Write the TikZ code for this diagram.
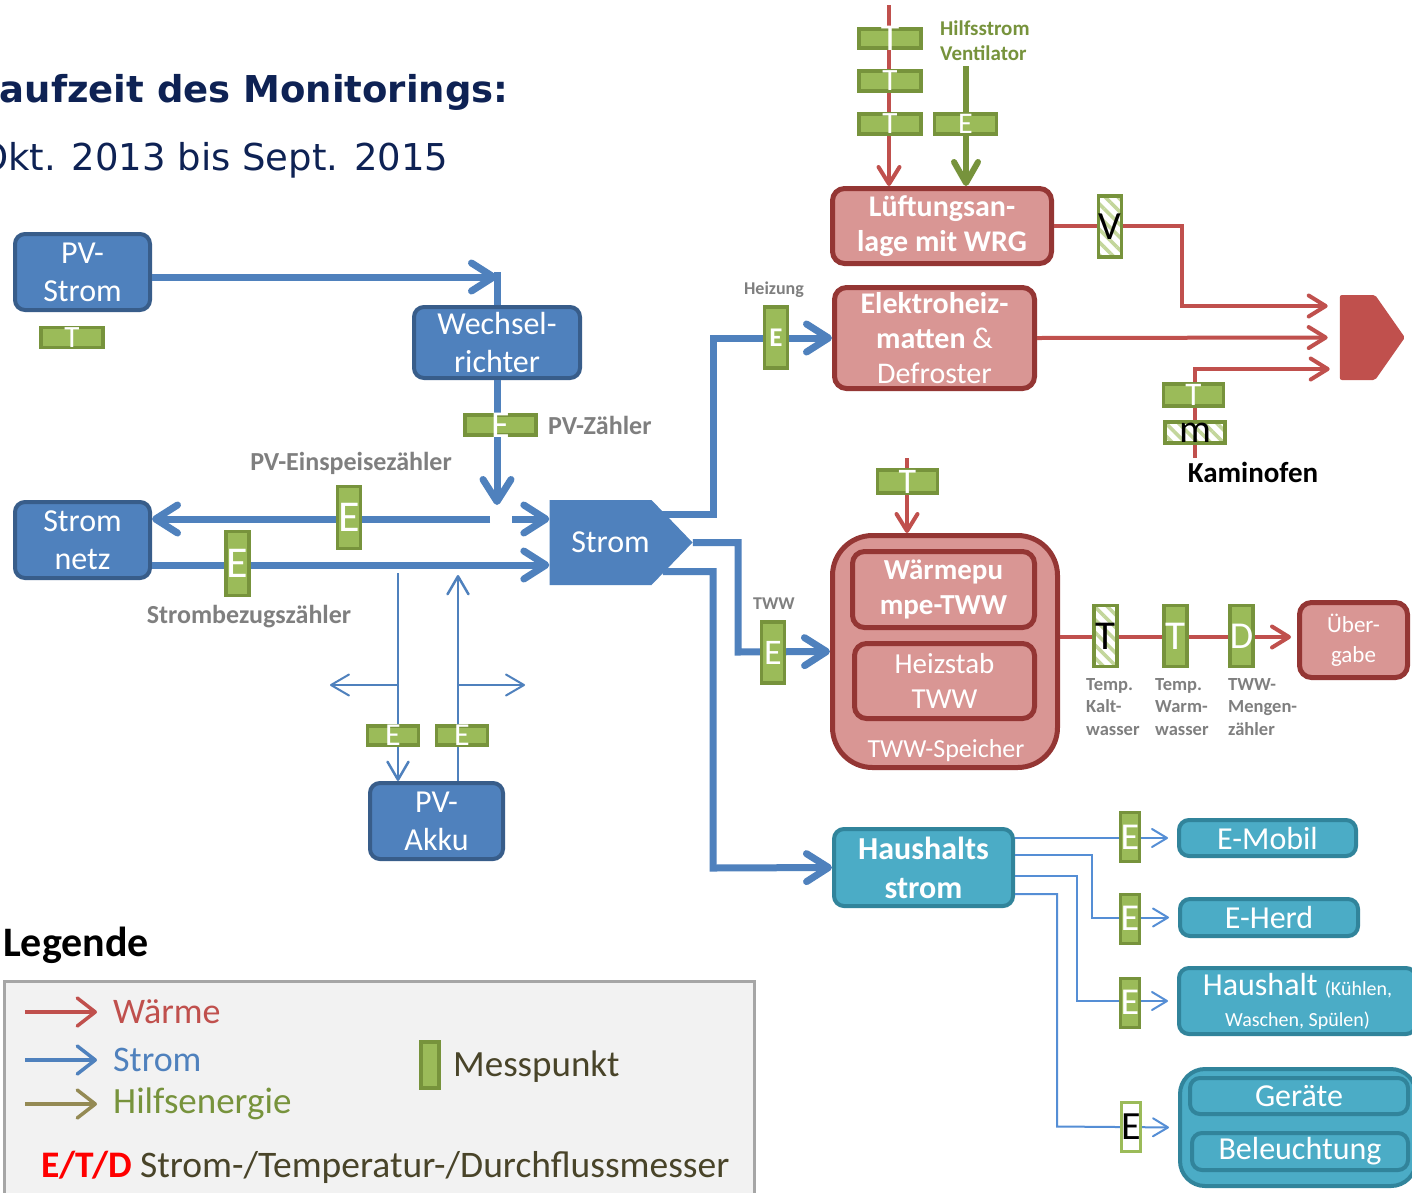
\documentclass[tikz,border=0pt]{standalone}
\usepackage{fontspec}
\setmainfont{Carlito}
\newfontfamily\titlefont{DejaVu Sans}
\usetikzlibrary{arrows.meta,shapes.symbols,patterns.meta}

\definecolor{bluefill}{HTML}{4F81BD}
\definecolor{blueborder}{HTML}{385D8A}
\definecolor{redfill}{HTML}{D99694}
\definecolor{redborder}{HTML}{943634}
\definecolor{redline}{HTML}{C0504D}
\definecolor{cyanfill}{HTML}{4BACC6}
\definecolor{cyanborder}{HTML}{31849B}
\definecolor{meterfill}{HTML}{9BBB59}
\definecolor{meterborder}{HTML}{77933C}
\definecolor{hatchgreen}{HTML}{C3D69B}
\definecolor{labelgray}{HTML}{7F7F7F}
\definecolor{hhline}{HTML}{558ED5}
\definecolor{titleblue}{HTML}{0E2254}
\definecolor{legfill}{HTML}{F2F2F2}
\definecolor{framegray}{HTML}{A6A6A6}
\definecolor{legdark}{HTML}{494429}
\definecolor{hilfarrow}{HTML}{948A54}

\newcommand{\fsz}[2]{\fontsize{#1}{#2}\selectfont}
\newcommand{\mlet}[1]{\smash{\raisebox{-.5\height}{#1}}}

\tikzset{
  boxbase/.style={align=center, text=white, inner sep=0pt, line width=4pt, rounded corners=10pt},
  bluebox/.style={boxbase, draw=blueborder, fill=bluefill, font=\fsz{32}{38}},
  redbox/.style={boxbase, draw=redborder, fill=redfill, line width=5pt, rounded corners=12pt},
  cyanbox/.style={boxbase, draw=cyanborder, fill=cyanfill, font=\fsz{32}{38}},
  stromshape/.style={signal, signal to=east, signal pointer angle=92, fill=bluefill, minimum width=143pt, minimum height=85pt, inner sep=0pt, text=white, font=\fsz{32}{38}},
  kamshape/.style={signal, signal to=east, signal pointer angle=110, fill=redline, rounded corners=2pt, minimum width=65pt, minimum height=85pt, inner sep=0pt},
  meter/.style={draw=meterborder, line width=3.5pt, inner sep=0pt, font=\fsz{38}{38}},
  gmeter/.style={meter, fill=meterfill, text=white},
  hatchmeter/.style={meter, preaction={fill=white}, pattern={Lines[angle=-45,distance=9pt,line width=3.5pt]}, pattern color=hatchgreen, text=black},
  hsize/.style={minimum width=62pt, minimum height=20pt},
  vsize/.style={minimum width=23pt, minimum height=61pt},
  ssize/.style={line width=3pt, minimum width=19pt, minimum height=49pt},
  lbl/.style={inner sep=0pt, text=labelgray, font=\fsz{26}{30}\bfseries},
  legtext/.style={anchor=west, inner sep=0pt, font=\fsz{36}{40}},
  legframe/.style={draw=framegray, fill=legfill, line width=3pt, inner sep=0pt},
  barrow/.style={draw=bluefill, line width=7pt, -{Straight Barb[length=22pt,width=28pt,round]}},
  rarrow/.style={draw=redline, line width=4pt, -{Straight Barb[length=17pt,width=21pt,round]}},
  garrow/.style={draw=meterborder, line width=6pt, -{Straight Barb[length=21pt,width=24pt,round]}},
  tarrow/.style={draw=bluefill, line width=2.5pt, -{Straight Barb[length=18pt,width=21pt,round]}},
  harrow/.style={draw=hhline, line width=2pt, shorten >=9pt, -{Straight Barb[length=15pt,width=18pt,round]}},
  legarrow/.style={line width=3.5pt, -{Straight Barb[length=18pt,width=28pt,round]}}
}

\begin{document}
\begin{tikzpicture}[x=1pt,y=-1pt]
\path[use as bounding box, fill=white] (0,0) rectangle (1412,1192);

\node[anchor=base west, inner sep=0pt, text=titleblue, font={\titlefont\bfseries\fsz{37}{40}}] (tit) at (-24,102) {Laufzeit des Monitorings:};
\node[anchor=base west, inner sep=0pt, text=titleblue, font={\titlefont\fsz{37}{40}}] (dat) at (-21,170) {Okt. 2013 bis Sept. 2015};

\node[bluebox, minimum width=135pt, minimum height=76pt] (pvs) at (82.5,272) {PV-\\Strom};
\node[bluebox, minimum width=166pt, minimum height=71pt] (wr) at (497,342.5) {Wechsel-\\richter};
\node[bluebox, minimum width=135pt, minimum height=76pt] (netz) at (82.5,540) {Strom\\netz};
\node[bluebox, minimum width=133pt, minimum height=76pt] (akku) at (436.5,821) {PV-\\Akku};
\node[stromshape] (strom) at (600.5,542.5) {\hspace*{20pt}Strom};

\node[redbox, font=\fsz{30}{35}\bfseries, minimum width=219pt, minimum height=75pt] (lueft) at (942,226) {Lüftungsan-\\lage mit WRG};
\node[redbox, font=\fsz{30}{35}, minimum width=200pt, minimum height=101pt] (elh) at (934.5,338) {\textbf{Elektroheiz-}\\\textbf{matten} \&\\Defroster};
\node[redbox, rounded corners=40pt, minimum width=225pt, minimum height=232pt] (tww) at (945,651.5) {};
\node[redbox, font=\fsz{29}{35}\bfseries, minimum width=182pt, minimum height=76pt] (wp) at (943.5,589.5) {Wärmepu\\mpe-TWW};
\node[redbox, font=\fsz{29}{35}, minimum width=180pt, minimum height=75pt] (hs) at (944.5,681) {Heizstab\\TWW};
\node[inner sep=0pt, text=white, font=\fsz{26}{30}] (twwsp) at (946,751) {TWW-Speicher};
\node[redbox, font=\fsz{23}{30}, minimum width=108pt, minimum height=75pt] (ueb) at (1353.5,640) {Über-\\gabe};
\node[kamshape] (kam) at (1357.5,337.5) {};

\node[cyanbox, font=\fsz{32}{39}\bfseries, minimum width=179pt, minimum height=77pt] (hh) at (923.5,867.5) {Haushalts\\strom};
\node[cyanbox, minimum width=177pt, minimum height=36pt] (mob) at (1267.5,838) {E-Mobil};
\node[cyanbox, minimum width=178pt, minimum height=37pt] (herd) at (1269,917.5) {E-Herd};
\node[cyanbox, font=\fsz{32}{31}, minimum width=237pt, minimum height=66pt] (haus) at (1297.5,1001) {Haushalt {\fsz{20}{31}(Kühlen,}\\{\fsz{20}{31}Waschen, Spülen)}};
\node[cyanbox, rounded corners=25pt, minimum width=236pt, minimum height=117pt] (grp) at (1298,1127.5) {};
\node[cyanbox, minimum width=218pt, minimum height=36pt] (ger) at (1299,1096) {Geräte};
\node[cyanbox, minimum width=216pt, minimum height=37pt] (bel) at (1300,1151.5) {Beleuchtung};

\coordinate (pva) at ([yshift=-5pt]pvs.east);
\draw[barrow] (pva) -- (pva -| wr.north);
\draw[bluefill, line width=7pt] (wr.north) -- (wr.north |- pvs.east);
\coordinate (wrend) at (497,505);
\draw[barrow] (wr.south) -- (wrend);
\coordinate (einS) at (490,519);
\draw[barrow] (einS) -- (einS -| netz.east);
\coordinate (einA) at (512,519);
\draw[barrow] (einA) -- (einA -| strom.west);
\coordinate (bz) at ([yshift=-25pt]netz.east);
\draw[barrow] (bz) -- (bz -| strom.west);
\coordinate (so1) at ([shift={(-42,-28)}]strom.east);
\draw[barrow] (so1) -| (713,338) -- (elh.west);
\draw[barrow] (strom.east) -| (738,652) -- (tww.west);
\coordinate (so3) at ([shift={(-30,29)}]strom.east);
\draw[barrow] (so3) -| (713,868) -- (hh.west);

\coordinate (akin) at (398,573);
\coordinate (akout) at (458,575);
\coordinate (akl) at (330,685);
\coordinate (akr) at (525,685);
\draw[tarrow] (akin) -- (akin |- akku.north);
\draw[tarrow] (akout |- akku.north) -- (akout);
\draw[tarrow, line width=2pt] (akl -| akin) -- (akl);
\draw[tarrow, line width=2pt] (akr -| akout) -- (akr);

\coordinate (lin) at (889,5);
\draw[rarrow] (lin) -- (lin |- lueft.north);
\coordinate (gin) at (966,66);
\draw[garrow] (gin) -- (gin |- lueft.north);
\coordinate (k1) at ([shift={(-12,-31.5)}]kam.west);
\draw[rarrow] (lueft.east) -| (1182,306) -- (k1);
\draw[rarrow] (elh.east) -- ([xshift=-12pt]kam.west);
\coordinate (kin) at (1195,458);
\coordinate (k3) at ([shift={(-10,31.5)}]kam.west);
\draw[rarrow] (kin) |- (k3);
\coordinate (twin) at (907,458);
\draw[rarrow] (twin) -- (twin |- tww.north);
\coordinate (tw2) at ([yshift=14.5pt]tww.east);
\draw[rarrow, shorten >=6pt] (tw2) -- (tw2 -| ueb.west);

\draw[harrow] (hh.east |- mob.west) -- (mob.west);
\draw[harrow] ([yshift=12.5pt]hh.east) -| (1092,917.5) -- (herd.west);
\draw[harrow] ([yshift=-8.5pt]hh.east) -| (1077,1001) -- (haus.west);
\draw[harrow] ([yshift=-26.5pt]hh.east) -| (1057,1126.5) -- (grp.west);

\node[gmeter, hsize, font=\fsz{31}{31}] (pvT) at (72,337.5) {\mlet{T}};
\node[gmeter, hsize, minimum width=71pt] (pvE) at (500.5,425) {\mlet{E}};
\node[gmeter, vsize, minimum height=62pt, font=\fsz{44}{44}] (einE) at (349,517.5) {\mlet{E}};
\node[gmeter, vsize, minimum height=64pt, font=\fsz{44}{44}] (bezE) at (237.5,563.5) {\mlet{E}};
\node[gmeter, hsize, minimum width=51pt, minimum height=19pt, font=\fsz{32}{32}] (akE1) at (393,735.5) {\mlet{E}};
\node[gmeter, hsize, minimum width=51pt, minimum height=19pt, font=\fsz{32}{32}] (akE2) at (462,735.5) {\mlet{E}};
\node[gmeter, vsize, font=\fsz{27}{27}\bfseries] (hzE) at (776,337.5) {\mlet{E}};
\node[gmeter, vsize, font=\fsz{36}{36}] (twE) at (773,652.5) {\mlet{E}};

\node[gmeter, hsize, minimum height=19pt] (t1) at (890,38.5) {\mlet{T}};
\node[gmeter, hsize, minimum height=20pt, font=\fsz{31}{31}] (t2) at (890,81) {\mlet{T}};
\node[gmeter, hsize, minimum height=20pt, font=\fsz{31}{31}] (t3) at (890,124) {\mlet{T}};
\node[gmeter, hsize, minimum height=20pt, font=\fsz{30}{30}] (eL) at (965.5,124) {\mlet{E}};
\node[hatchmeter, vsize, font=\fsz{40}{40}] (lV) at (1110,226.5) {\mlet{V}};
\node[gmeter, hsize, minimum width=60pt, minimum height=22pt, font=\fsz{33}{33}] (kT) at (1193.5,395) {\mlet{T}};
\node[hatchmeter, hsize, minimum width=60pt, minimum height=21pt, font=\fsz{40}{40}] (kM) at (1195,432.5) {\mlet{m}};
\node[gmeter, hsize, minimum width=60pt, minimum height=23pt, font=\fsz{36}{36}] (twT) at (907.5,481.5) {\mlet{T}};
\node[hatchmeter, vsize, font=\fsz{41}{41}] (kaT) at (1105.5,636) {\mlet{T}};
\node[gmeter, vsize, font=\fsz{41}{41}] (waT) at (1175.5,636) {\mlet{T}};
\node[gmeter, vsize, font=\fsz{38}{38}] (dD) at (1241.5,636) {\mlet{D}};

\node[gmeter, ssize] (hE1) at (1130,837) {\mlet{E}};
\node[gmeter, ssize] (hE2) at (1130,918.5) {\mlet{E}};
\node[gmeter, ssize] (hE3) at (1130,1002.5) {\mlet{E}};
\node[meter, ssize, draw=meterfill, fill=white, text=black, font=\fsz{40}{40}] (hE4) at (1131,1126.5) {\mlet{E}};

\node[lbl, anchor=west] (pvzl) at (548,425) {PV-Zähler};
\node[lbl] (einl) at (351,463) {PV-Einspeisezähler};
\node[lbl] (bezl) at (249,617) {Strombezugszähler};
\node[lbl, font=\fsz{18}{22}\bfseries] (hzl) at (774,290) {Heizung};
\node[lbl, font=\fsz{18}{22}\bfseries] (twwl) at (774,604) {TWW};
\node[lbl, text=meterborder, font=\fsz{21}{25}\bfseries, align=left, anchor=west] (hilfl) at (940,41) {Hilfsstrom\\Ventilator};
\node[lbl, text=black, font=\fsz{29}{30}\bfseries] (kaml) at (1253,472) {Kaminofen};
\node[lbl, font=\fsz{18.5}{22.5}\bfseries, align=left, anchor=north west] (kal) at (1086,678) {Temp.\\Kalt-\\wasser};
\node[lbl, font=\fsz{18.5}{22.5}\bfseries, align=left, anchor=north west] (wal) at (1155,678) {Temp.\\Warm-\\wasser};
\node[lbl, font=\fsz{18.5}{22.5}\bfseries, align=left, anchor=north west] (mzl) at (1228,678) {TWW-\\Mengen-\\zähler};

\node[anchor=west, inner sep=0pt, font=\fsz{42}{42}\bfseries] (legt) at (3,945) {Legende};
\node[legframe, anchor=north west, minimum width=750pt, minimum height=230pt] (legbox) at (3,980) {};
\node[legtext, text=redline] (lw) at (113,1012) {Wärme};
\node[legtext, text=bluefill] (ls) at (113,1060) {Strom};
\node[legtext, text=meterborder, font=\fsz{37}{40}] (lh) at (113,1104) {Hilfsenergie};
\draw[legarrow, draw=redline] ([xshift=-88pt]lw.west) -- ([xshift=-16pt]lw.west);
\draw[legarrow, draw=bluefill] ([xshift=-88pt]ls.west) -- ([xshift=-16pt]ls.west);
\draw[legarrow, draw=hilfarrow] ([xshift=-88pt]lh.west) -- ([xshift=-16pt]lh.west);
\node[gmeter, minimum width=18pt, minimum height=46pt, line width=4pt] (lm) at (430,1065) {};
\node[legtext, text=legdark, font=\fsz{37}{40}] (lmt) at (453,1067) {Messpunkt};
\node[legtext, text=legdark, font=\fsz{37.5}{40}] (letd) at (41,1167) {\textcolor{red}{\bfseries E/T/D} Strom-/Temperatur-/Durchflussmesser};
\end{tikzpicture}
\end{document}
